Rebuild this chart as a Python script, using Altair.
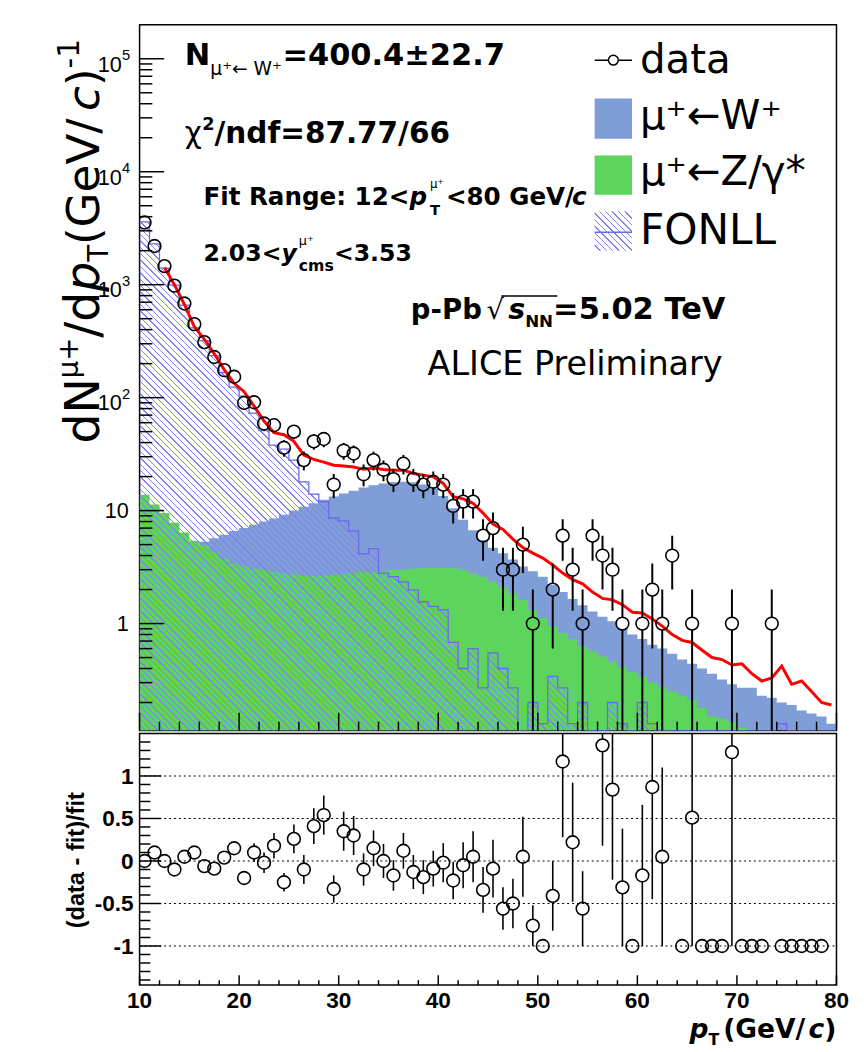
import math
import altair as alt
import pandas as pd

# ---------------- data ----------------
BIN_LO = list(range(10, 80))          # 1 GeV/c bins, lower edges

W_HIST = [2.0, 2.5, 3.0, 3.5, 4.0, 4.6, 5.3, 5.7, 6.1, 6.6,
          7.0, 7.5, 8.0, 8.5, 9.2, 10.0, 10.8, 11.6, 12.5, 13.3,
          14.2, 15.0, 16.0, 16.8, 17.4, 17.9, 18.0, 17.8, 17.0, 15.8,
          13.5, 10.5, 8.3, 6.7, 5.5, 4.7, 4.2, 3.7, 3.2, 2.9,
          2.6, 2.2, 1.9, 1.65, 1.45, 1.28, 1.15, 1.05, 0.9, 0.8,
          0.73, 0.65, 0.6, 0.54, 0.48, 0.44, 0.4, 0.36, 0.32, 0.29,
          0.27, 0.27, 0.23, 0.22, 0.2, 0.19, 0.17, 0.16, 0.15, 0.13]

Z_HIST = [13.8, 11.3, 9.5, 7.8, 6.4, 5.4, 4.9, 4.27, 3.74, 3.38,
          3.2, 3.06, 2.96, 2.88, 2.8, 2.73, 2.67, 2.64, 2.67, 2.7,
          2.75, 2.8, 2.85, 2.85, 2.9, 3.0, 3.0, 3.05, 3.1, 3.1,
          3.1, 3.1, 3.0, 2.77, 2.6, 2.34, 2.11, 1.85, 1.62, 1.32,
          1.12, 0.95, 0.83, 0.73, 0.63, 0.57, 0.51, 0.46, 0.41, 0.37,
          0.34, 0.30, 0.275, 0.25, 0.23, 0.21, 0.18, 0.15, 0.145, 0.135,
          0.12, 0.105, 0.095, 0.09, 0.085, 0.08, 0.075, 0.07, 0.065, 0.06]

FONLL_HIST = [3600, 2300, 1400, 990, 658, 414, 320, 235, 167, 124,
              103, 73, 51, 38, 35, 28, 18, 14, 12, 8.6,
              8.1, 6.6, 4.15, 4.6, 2.8, 2.6, 2.34, 1.98, 1.56, 1.42,
              1.32, 0.68, 0.4, 0.6, 0.27, 0.55, 0.4, 0.27, 0, 0.2,
              0.13, 0.34, 0.27, 0.13, 0.2, 0, 0, 0.2, 0.13, 0,
              0.2, 0.13, 0, 0, 0, 0, 0, 0, 0, 0,
              0, 0, 0, 0, 0.13, 0, 0, 0, 0, 0]

FIT_PT = [c + 0.5 for c in range(12, 80)]
FIT_VAL = [1420, 1000, 668, 424, 330, 245, 177, 134,
           113, 84, 62, 49, 47, 41, 31, 28.4, 26.9, 25.2,
           24.8, 24.3, 23.2, 23.8, 23.1, 22.8, 22.8, 21.3, 20.6, 19.9,
           17.4, 13.3, 12.7, 11.6, 9.5, 7.6, 6.8, 5.6, 4.7, 4.2,
           3.8, 3.3, 2.8, 2.45, 2.25, 1.9, 1.67, 1.62, 1.47, 1.26,
           1.24, 1.1, 0.95, 0.8, 0.71, 0.68, 0.58, 0.5, 0.48, 0.43,
           0.44, 0.36, 0.31, 0.33, 0.42, 0.29, 0.31, 0.25, 0.2, 0.19]

DATA_PT = [10.5, 11.5, 12.5, 13.5, 14.5, 15.5, 16.5, 17.5, 18.5, 19.5,
           20.5, 21.5, 22.5, 23.5, 24.5, 25.5, 26.5, 27.5, 28.5, 29.5,
           30.5, 31.5, 32.5, 33.5, 34.5, 35.5, 36.5, 37.5, 38.5, 39.5,
           40.5, 41.5, 42.5, 43.5, 44.5, 45.5, 46.5, 47.5, 48.5, 49.5,
           51.5, 52.5, 53.5, 54.5, 55.5, 56.5, 57.5, 58.5,
           60.5, 61.5, 62.5, 63.5, 65.5, 69.5, 73.5]
DATA_N = [3550, 2200, 1460, 980, 681, 447, 310, 229, 175, 153,
          90, 91, 59, 57, 36, 50, 28, 41, 43, 17,
          34, 32, 21, 28, 23, 19, 26, 19, 17, 18,
          17, 11, 12, 12, 6, 7, 3, 3, 5, 1,
          2, 6, 3, 1, 6, 4, 3, 1,
          1, 2, 1, 4, 1, 1, 1]
DATA_ERR = [59.6, 46.9, 38.2, 31.3, 26.1, 21.1, 17.6, 15.1, 13.2, 12.4,
            9.5, 9.5, 7.7, 7.5, 6.0, 7.1, 5.3, 6.4, 6.6, 4.1,
            5.8, 5.7, 4.6, 5.3, 4.8, 4.4, 5.1, 4.4, 4.1, 4.2,
            4.1, 3.3, 3.5, 3.5, 2.4, 2.6, 1.7, 1.7, 2.2, 1.0,
            1.4, 2.4, 1.7, 1.0, 2.4, 2.0, 1.7, 1.0,
            1.0, 1.4, 1.0, 2.0, 1.0, 1.0, 1.0]

RATIO_PT = [10.5, 11.5, 12.5, 13.5, 14.5, 15.5, 16.5, 17.5, 18.5, 19.5,
            20.5, 21.5, 22.5, 23.5, 24.5, 25.5, 26.5, 27.5, 28.5, 29.5,
            30.5, 31.5, 32.5, 33.5, 34.5, 35.5, 36.5, 37.5, 38.5, 39.5,
            40.5, 41.5, 42.5, 43.5, 44.5, 45.5, 46.5, 47.5, 48.5, 49.5,
            50.5, 51.5, 52.5, 53.5, 54.5, 56.5, 57.5, 58.5, 59.5,
            60.5, 61.5, 62.5, 64.5, 65.5, 66.5, 67.5, 68.5, 69.5,
            70.5, 71.5, 72.5, 74.5, 75.5, 76.5, 77.5, 78.5]
RATIO_VAL = [0.0, 0.10, 0.0, -0.10, 0.05, 0.10, -0.06, -0.09, 0.04, 0.15,
             -0.20, 0.10, -0.02, 0.18, -0.25, 0.26, -0.10, 0.41, 0.54, -0.33,
             0.35, 0.30, -0.10, 0.15, 0.0, -0.17, 0.12, -0.13, -0.19, -0.09,
             -0.02, -0.23, -0.05, 0.05, -0.34, -0.09, -0.56, -0.50, 0.05, -0.76,
             -1.0, -0.41, 1.17, 0.22, -0.56, 1.36, 0.84, -0.31, -1.0,
             -0.17, 0.87, 0.05, -1.0, 0.51, -1.0, -1.0, -1.0, 1.28,
             -1.0, -1.0, -1.0, -1.0, -1.0, -1.0, -1.0, -1.0]
RATIO_ERR = [0.02, 0.02, 0.03, 0.03, 0.04, 0.05, 0.06, 0.06, 0.07, 0.08,
             0.08, 0.11, 0.12, 0.15, 0.11, 0.17, 0.17, 0.21, 0.23, 0.16,
             0.23, 0.23, 0.19, 0.21, 0.20, 0.18, 0.21, 0.20, 0.20, 0.21,
             0.23, 0.22, 0.27, 0.30, 0.27, 0.34, 0.25, 0.29, 0.47, 0.24,
             0.0, 0.41, 0.89, 0.70, 0.44, 1.18, 1.06, 0.69, 0.0,
             0.83, 1.32, 1.05, 0.0, 1.51, 0.0, 0.0, 0.0, 2.28,
             0.0, 0.0, 0.0, 0.0, 0.0, 0.0, 0.0, 0.0]

X_MAJOR = [10, 20, 30, 40, 50, 60, 70, 80]
X_MINOR = [12, 14, 16, 18, 22, 24, 26, 28, 32, 34, 36, 38, 42, 44, 46, 48,
           52, 54, 56, 58, 62, 64, 66, 68, 72, 74, 76, 78]
Y_MAJOR = [1, 10, 100, 1000, 10000, 100000]
Y_MINOR = [m * 10 ** e for e in range(-1, 6) for m in range(2, 10)]
YLAB_VALUE = [100000, 10000, 1000, 100, 10, 1]
YLAB_BASE = ["10", "10", "10", "10", "10", "1"]
YLAB_EXP = ["5", "4", "3", "2", "", ""]
R_MAJOR = [-1, -0.5, 0, 0.5, 1]
R_LABELS = ["-1", "-0.5", "0", "0.5", "1"]
R_MINOR = [-1.4, -1.3, -1.2, -1.1, -0.9, -0.8, -0.7, -0.6, -0.4, -0.3, -0.2, -0.1,
           0.1, 0.2, 0.3, 0.4, 0.6, 0.7, 0.8, 0.9, 1.1, 1.2, 1.3, 1.4]
X_LABELS = ["10", "20", "30", "40", "50", "60", "70", "80"]

# ---------------- layout / style ----------------
W = 709
H_TOP = 718
H_BOT = 256
YMIN, YMAX = 0.113, 2.0e5
RMIN, RMAX = -1.46, 1.50
OX, OY = 141, 15          # top plot origin in the page
OBY = OY + H_TOP          # bottom plot origin (y) in the page

BLUE = "#7f9dd6"
GREEN = "#5dd55d"
HATCH = "#8282ee"
OUTLINE = "#6a6ae8"
RED = "#ff0000"
CLEAR = "rgba(255,255,255,0)"
DJ = "DejaVu Sans"
LIB = "Liberation Sans"
RADIUS = 6.5

XS = alt.Scale(domain=[10, 80], nice=False, zero=False)
YS = alt.Scale(type="log", domain=[YMIN, YMAX], nice=False)
RS = alt.Scale(domain=[RMIN, RMAX], nice=False, zero=False)
LOG_RANGE = math.log10(YMAX) - math.log10(YMIN)
PX_DEC = H_TOP / LOG_RANGE
PX_R = H_BOT / (RMAX - RMIN)

# DejaVu advance widths (per 1000 em) for text placement
DJV = {' ': 318, '(': 390, ')': 390, '/': 337, '-': 361, '+': 838, '=': 838, '.': 318,
       '<': 838, '*': 500, 'd': 635, 'N': 748, 'p': 635, 'a': 613, 't': 392, 'G': 775,
       'e': 615, 'V': 684, 'c': 550, 'T': 611, 'W': 989, 'Z': 686, 'μ': 636, 'γ': 592,
       'χ': 592, '←': 838, '⁺': 540, '√': 636, '±': 838}
DJVB = {' ': 348, '.': 380, '=': 838, '<': 838, '±': 838, '/': 365, '(': 457, ')': 457,
        '-': 415, 'N': 837, 'F': 683, 'i': 343, 't': 478, 'R': 770, 'a': 675, 'n': 712,
        'g': 716, 'e': 678, ':': 400, 'p': 716, 'c': 593, 'y': 652, 'm': 1042, 's': 595,
        'd': 716, 'f': 435, 'P': 733, 'b': 716, 'T': 682, 'V': 774, 'G': 821, '√': 696}


def tw(s, size, bold=False):
    table = DJVB if bold else DJV
    return sum(table.get(ch, 636 if not bold else 696) for ch in s) * size / 1000.0


DUMMY = pd.DataFrame({"k": [0]})


def txt(s, x, y, size, bold=False, italic=False, font=DJ, align="left", angle=0,
        baseline="alphabetic", color="black"):
    kw = dict(text=s, font=font, fontSize=size, fontWeight="bold" if bold else "normal",
              fontStyle="italic" if italic else "normal", align=align, baseline=baseline,
              color=color)
    if angle:
        kw["angle"] = angle
    return alt.Chart(DUMMY).mark_text(**kw).encode(x=alt.value(x), y=alt.value(y))


def line(pieces, x0, y0, ox=OX, oy=OY):
    """pieces: (text, size, bold, italic, dy, advance[, dx])"""
    out = []
    x = x0
    for p in pieces:
        s, size, bold, italic, dy, adv = p[:6]
        dx = p[6] if len(p) > 6 else 0
        x += dx
        out.append(txt(s, x - ox, y0 + dy - oy, size, bold, italic))
        if adv:
            x += tw(s, size, bold)
    return out


def hatch_gradient(w, h, spacing=4.6, lw=1.0, color=HATCH):
    r = h / w
    a = (1 + r) / (1 + r * r)
    n = int(round(w * (1 + r) / (math.sqrt(2) * spacing)))
    f = 1 - lw / spacing
    stops = []
    for k in range(n):
        stops += [alt.GradientStop(offset=k / n, color=CLEAR),
                  alt.GradientStop(offset=(k + f) / n, color=CLEAR),
                  alt.GradientStop(offset=(k + f) / n, color=color),
                  alt.GradientStop(offset=(k + 1) / n, color=color)]
    return alt.LinearGradient(gradient="linear", stops=stops, x1=0, y1=1, x2=a, y2=1 - a * r)


# ---------------- tables ----------------
def step(vals):
    v = [max(x, YMIN) for x in vals]
    return v + [v[-1]]


hist = pd.DataFrame({"x": BIN_LO + [BIN_LO[-1] + 1], "w": step(W_HIST),
                     "z": step(Z_HIST), "f": step(FONLL_HIST)})
fit = pd.DataFrame({"pt": FIT_PT, "v": FIT_VAL})
data = pd.DataFrame({"pt": DATA_PT, "n": DATA_N, "e": DATA_ERR})
ratio = pd.DataFrame({"pt": RATIO_PT, "r": RATIO_VAL, "e": RATIO_ERR})

f_top = H_TOP * (math.log10(YMAX) - math.log10(max(FONLL_HIST))) / LOG_RANGE
HATCH_FILL = hatch_gradient(W, H_TOP - f_top)

X_NO = alt.X("x:Q", scale=XS, axis=None)


def y_hist(field):
    return alt.Y(f"{field}:Q", scale=YS, axis=None, stack=None)


# ---------------- top panel ----------------
top_layers = []
top_layers.append(alt.Chart(DUMMY).mark_rule(color="white", strokeWidth=0.2).encode(
    x=alt.value(-OX + 0.2), y=alt.value(0), y2=alt.value(1)))
top_layers.append(alt.Chart(hist).mark_area(interpolate="step-after", color=BLUE, clip=True).encode(
    x=X_NO, y=y_hist("w"), y2=alt.value(H_TOP)))
top_layers.append(alt.Chart(hist).mark_area(interpolate="step-after", color=GREEN, clip=True).encode(
    x=X_NO, y=y_hist("z"), y2=alt.value(H_TOP)))
top_layers.append(alt.Chart(hist).mark_area(interpolate="step-after", fill=HATCH_FILL, clip=True).encode(
    x=X_NO, y=y_hist("f"), y2=alt.value(H_TOP)))
top_layers.append(alt.Chart(hist).mark_line(interpolate="step-after", color=OUTLINE, strokeWidth=1.3,
                                            clip=True).encode(x=X_NO, y=y_hist("f")))
top_layers.append(alt.Chart(fit).mark_line(color=RED, strokeWidth=3, clip=True).encode(
    x=alt.X("pt:Q", scale=XS, axis=None), y=alt.Y("v:Q", scale=YS, axis=None)))
# error bars (outside the open markers)
top_layers.append(alt.Chart(data).transform_calculate(hi="datum.n + datum.e").transform_filter(
    f"log(datum.hi / datum.n) / LN10 * {PX_DEC} > {RADIUS}").mark_rule(
    color="black", strokeWidth=2, y2Offset=-RADIUS, clip=True).encode(
    x=alt.X("pt:Q", scale=XS, axis=None), y=alt.Y("hi:Q", scale=YS, axis=None), y2="n:Q"))
top_layers.append(alt.Chart(data).transform_calculate(lo="max(datum.n - datum.e, 0.001)").transform_filter(
    f"log(datum.n / datum.lo) / LN10 * {PX_DEC} > {RADIUS}").mark_rule(
    color="black", strokeWidth=2, yOffset=RADIUS, clip=True).encode(
    x=alt.X("pt:Q", scale=XS, axis=None), y=alt.Y("n:Q", scale=YS, axis=None), y2="lo:Q"))
top_layers.append(alt.Chart(data).mark_point(shape="circle", size=(2 * RADIUS) ** 2, filled=False,
                                             color="black", strokeWidth=1.6, opacity=1, clip=True).encode(
    x=alt.X("pt:Q", scale=XS, axis=None), y=alt.Y("n:Q", scale=YS, axis=None)))

# inward ticks
top_layers.append(alt.Chart(pd.DataFrame({"t": X_MAJOR})).mark_rule(color="black", strokeWidth=1.5).encode(
    x=alt.X("t:Q", scale=XS, axis=None), y=alt.value(H_TOP), y2=alt.value(H_TOP - 18)))
top_layers.append(alt.Chart(pd.DataFrame({"t": X_MINOR})).mark_rule(color="black", strokeWidth=1.5).encode(
    x=alt.X("t:Q", scale=XS, axis=None), y=alt.value(H_TOP), y2=alt.value(H_TOP - 9)))
top_layers.append(alt.Chart(pd.DataFrame({"t": Y_MAJOR})).mark_rule(color="black", strokeWidth=1.5).encode(
    y=alt.Y("t:Q", scale=YS, axis=None), x=alt.value(0), x2=alt.value(25)))
top_layers.append(alt.Chart(pd.DataFrame({"t": Y_MINOR})).transform_filter(
    f"datum.t > {YMIN} && datum.t < {YMAX}").mark_rule(color="black", strokeWidth=1.5).encode(
    y=alt.Y("t:Q", scale=YS, axis=None), x=alt.value(0), x2=alt.value(13)))

# y tick labels 10^n
ylab = pd.DataFrame({"v": YLAB_VALUE, "base": YLAB_BASE, "exp": YLAB_EXP})
top_layers.append(alt.Chart(ylab).transform_filter("datum.exp != ''").mark_text(
    align="right", baseline="middle", dy=6, font=LIB, fontSize=22).encode(
    y=alt.Y("v:Q", scale=YS, axis=None), x=alt.value(-18), text="base:N"))
top_layers.append(alt.Chart(ylab).transform_filter("datum.exp != ''").mark_text(
    align="left", baseline="middle", dy=-4, font=LIB, fontSize=15).encode(
    y=alt.Y("v:Q", scale=YS, axis=None), x=alt.value(-18), text="exp:N"))
top_layers.append(alt.Chart(ylab).transform_filter("datum.exp == ''").mark_text(
    align="right", baseline="middle", dy=1, font=LIB, fontSize=22).encode(
    y=alt.Y("v:Q", scale=YS, axis=None), x=alt.value(-11), text="base:N"))

# big rotated y title: dN^{mu+}/dp_T (GeV/c)^{-1}
title_pieces = [("dN", 48, False, 0, 0), ("μ+", 28, False, -22, 0), ("/d", 48, False, 0, 0),
                ("p", 48, True, 0, 0), ("T", 28, False, 9, 0), (" (GeV/", 46, False, 0, 0),
                ("c", 46, True, 0, 7), (")", 46, False, 0, 0), ("-1", 30, False, -21, 0)]
ty = 441
for s, size, italic, dx, back in title_pieces:
    ty += back
    top_layers.append(txt(s, 100 + dx - OX, ty - OY, size, False, italic, angle=270))
    ty -= tw(s, size)

# annotations
top_layers += line([("N", 31, True, False, 0, True), ("μ⁺← W⁺", 19, False, False, 10, True),
                    ("=400.4±22.7", 31, True, False, 0, True)], 187, 56)
top_layers += line([("χ", 30, False, False, 0, True), ("2", 18, True, False, -13, True),
                    ("/ndf=87.77/66", 30, True, False, 0, True)], 187, 135)
top_layers += line([("Fit Range: 12<", 25, True, False, 0, True), ("p", 25, True, True, 0, True),
                    ("μ⁺", 12, False, False, -17, False, 3), ("T", 15, True, False, 11, True),
                    ("<80 GeV/", 25, True, False, 0, True, 6), ("c", 25, True, True, 0, True, -2)], 206, 198)
top_layers += line([("2.03<", 24, True, False, 0, True), ("y", 24, True, True, 0, True),
                    ("μ⁺", 13, False, False, -16, False, 2), ("cms", 16, True, False, 11, True),
                    ("<3.53", 24, True, False, 0, True)], 206, 255)
top_layers += line([("p-Pb", 28, True, False, 0, True)], 417, 314)
top_layers += line([("√", 28, False, False, 0, True)], 494, 314)
top_layers += line([("s", 29, True, True, 0, True), ("NN", 17, True, False, 8, True),
                    ("=5.02 TeV", 31, True, False, 0, True)], 516, 314)
top_layers.append(alt.Chart(DUMMY).mark_rule(color="black", strokeWidth=1.5).encode(
    x=alt.value(509 - OX), x2=alt.value(566 - OX), y=alt.value(291 - OY)))
top_layers += line([("ALICE Preliminary", 34, False, False, 0, True)], 434, 371)

# legend
top_layers.append(alt.Chart(DUMMY).mark_rule(color="black", strokeWidth=1.5).encode(
    x=alt.value(604 - OX), x2=alt.value(642 - OX), y=alt.value(51 - OY)))
top_layers.append(alt.Chart(DUMMY).mark_point(shape="circle", size=100, filled=True, fill="white",
                                              stroke="black", strokeWidth=1.5, opacity=1).encode(
    x=alt.value(623 - OX), y=alt.value(51 - OY)))
top_layers.append(alt.Chart(DUMMY).mark_rect(color=BLUE).encode(
    x=alt.value(604 - OX), x2=alt.value(642 - OX), y=alt.value(90 - OY), y2=alt.value(131 - OY)))
top_layers.append(alt.Chart(DUMMY).mark_rect(color=GREEN).encode(
    x=alt.value(604 - OX), x2=alt.value(642 - OX), y=alt.value(148 - OY), y2=alt.value(188 - OY)))
top_layers.append(alt.Chart(DUMMY).mark_rect(fill=hatch_gradient(38, 40)).encode(
    x=alt.value(604 - OX), x2=alt.value(642 - OX), y=alt.value(205 - OY), y2=alt.value(245 - OY)))
top_layers.append(alt.Chart(DUMMY).mark_rule(color=OUTLINE, strokeWidth=1.5).encode(
    x=alt.value(604 - OX), x2=alt.value(642 - OX), y=alt.value(226 - OY)))
top_layers += line([("data", 41, False, False, 0, True)], 650, 64)
top_layers += line([("μ⁺←W⁺", 41, False, False, 0, True)], 650, 121)
top_layers += line([("μ⁺←Z/γ*", 41, False, False, 0, True)], 650, 178)
top_layers += line([("FONLL", 43, False, False, 0, True)], 650, 238)

top = alt.layer(*top_layers).properties(width=W, height=H_TOP)

# ---------------- bottom panel ----------------
bot_layers = []
bot_layers.append(alt.Chart(pd.DataFrame({"g": R_MAJOR})).mark_rule(
    color="black", strokeWidth=1.2, strokeDash=[2, 3]).encode(
    y=alt.Y("g:Q", scale=RS, axis=None), x=alt.value(0), x2=alt.value(W)))
bot_layers.append(alt.Chart(pd.DataFrame({"t": R_MAJOR})).mark_rule(color="black", strokeWidth=1.5).encode(
    y=alt.Y("t:Q", scale=RS, axis=None), x=alt.value(0), x2=alt.value(22)))
bot_layers.append(alt.Chart(pd.DataFrame({"t": R_MINOR})).mark_rule(color="black", strokeWidth=1.5).encode(
    y=alt.Y("t:Q", scale=RS, axis=None), x=alt.value(0), x2=alt.value(11)))
bot_layers.append(alt.Chart(pd.DataFrame({"t": X_MAJOR})).mark_rule(color="black", strokeWidth=1.5).encode(
    x=alt.X("t:Q", scale=XS, axis=None), y=alt.value(H_BOT), y2=alt.value(H_BOT - 10)))
bot_layers.append(alt.Chart(pd.DataFrame({"t": X_MINOR})).mark_rule(color="black", strokeWidth=1.5).encode(
    x=alt.X("t:Q", scale=XS, axis=None), y=alt.value(H_BOT), y2=alt.value(H_BOT - 5)))
# tick labels as text marks
bot_layers.append(alt.Chart(pd.DataFrame({"v": R_MAJOR, "s": R_LABELS})).mark_text(
    align="right", baseline="middle", font=LIB, fontSize=23, fontWeight="bold", dy=1).encode(
    y=alt.Y("v:Q", scale=RS, axis=None), x=alt.value(-6), text="s:N"))
bot_layers.append(alt.Chart(pd.DataFrame({"v": X_MAJOR, "s": X_LABELS})).mark_text(
    align="center", baseline="alphabetic", font=LIB, fontSize=23, fontWeight="bold").encode(
    x=alt.X("v:Q", scale=XS, axis=None), y=alt.value(H_BOT + 23), text="s:N"))
bot_layers.append(alt.Chart(ratio).transform_calculate(hi="datum.r + datum.e").transform_filter(
    f"datum.e * {PX_R} > {RADIUS}").mark_rule(
    color="black", strokeWidth=1.6, y2Offset=-RADIUS, clip=True).encode(
    x=alt.X("pt:Q", scale=XS, axis=None), y=alt.Y("hi:Q", scale=RS, axis=None), y2="r:Q"))
bot_layers.append(alt.Chart(ratio).transform_calculate(lo="datum.r - datum.e").transform_filter(
    f"datum.e * {PX_R} > {RADIUS}").mark_rule(
    color="black", strokeWidth=1.6, yOffset=RADIUS, clip=True).encode(
    x=alt.X("pt:Q", scale=XS, axis=None), y=alt.Y("r:Q", scale=RS, axis=None), y2="lo:Q"))
bot_layers.append(alt.Chart(ratio).mark_point(shape="circle", size=(2 * RADIUS) ** 2, filled=False,
                                              color="black", strokeWidth=1.6, opacity=1, clip=True).encode(
    x=alt.X("pt:Q", scale=XS, axis=None), y=alt.Y("r:Q", scale=RS, axis=None)))
bot_layers.append(txt("(data - fit)/fit", 84 - OX, 862 - OBY, 24, True, font=LIB, align="center", angle=270))
# x title: p_T (GeV/c), right aligned to the frame
xt = [("p", 27, True, True, 0, True), ("T", 16, True, False, 7, True),
      (" (GeV/", 27, True, False, 0, True, 4), ("c", 27, True, True, 0, True, -6),
      (")", 27, True, False, 0, True)]
total = sum(tw(p[0], p[1], p[2]) + (p[6] if len(p) > 6 else 0) for p in xt)
bot_layers += line(xt, OX + W - total, 1043, oy=OBY)

bot = alt.layer(*bot_layers).properties(width=W, height=H_BOT)

chart = alt.vconcat(top, bot, spacing=0).properties(
    padding={"left": 0, "top": OY, "right": 14, "bottom": 2},
    background="white").configure_view(stroke="black", strokeWidth=1.5)

chart.save("out.html", embed_options={"renderer": "svg", "actions": False})
